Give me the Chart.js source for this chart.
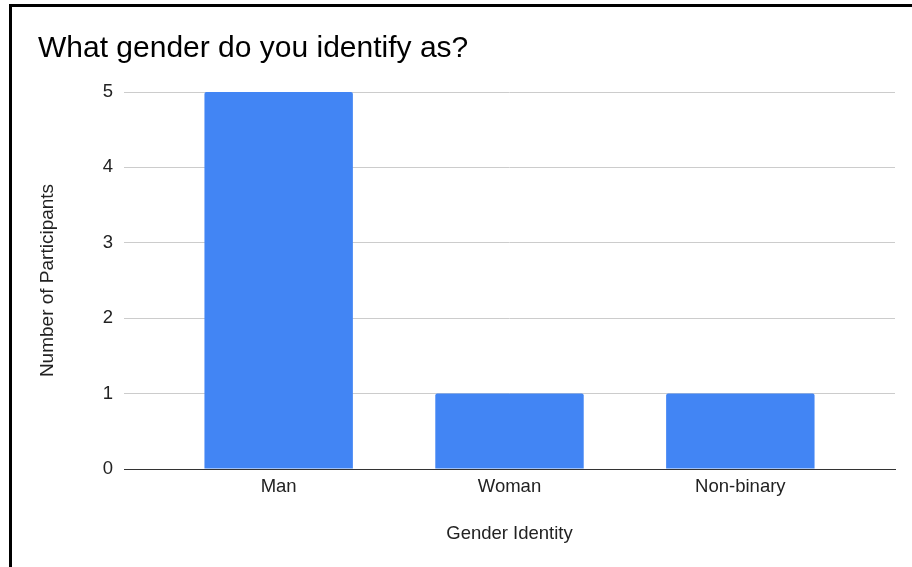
<!DOCTYPE html>
<html>
<head>
<meta charset="utf-8">
<script src="https://cdn.jsdelivr.net/npm/chart.js@4"></script>
<style>
  html, body { margin: 0; padding: 0; background: #fff; }
  .frame {
    position: absolute; left: 9px; top: 4px; width: 1000px; height: 700px;
    border-left: 3px solid #000; border-top: 3px solid #000;
  }
  .wrap { position: absolute; left: 0; top: 0; width: 912px; height: 567px; overflow: hidden; }
</style>
</head>
<body>
<div class="wrap">
  <div class="frame"></div>
  <div style="position:absolute;left:0;top:0;width:912px;height:567px;">
    <canvas id="myChart"></canvas>
  </div>
</div>
<script>
const genders = ["Man", "Woman", "Non-binary"];
const participants = [5, 1, 1];
const countTicks = [0, 1, 2, 3, 4, 5];

Chart.defaults.font.family = "'Liberation Sans', Arial, sans-serif";
Chart.defaults.color = "#222";

const ctx = document.getElementById('myChart').getContext('2d');

new Chart(ctx, {
  type: 'bar',
  data: {
    datasets: [{
      label: "Number of Participants",
      data: genders.map((g, i) => ({ x: i, y: participants[i] })),
      backgroundColor: '#4285F4',
      borderRadius: 2,
      categoryPercentage: 1,
      barPercentage: 0.643
    }]
  },
  options: {
    responsive: true,
    maintainAspectRatio: false,
    animation: false,
    layout: { padding: { left: 38, right: 17, top: 0, bottom: 22 } },
    plugins: {
      legend: { display: false },
      tooltip: { enabled: false },
      title: {
        display: true,
        text: "What gender do you identify as?",
        align: 'start',
        color: '#000',
        font: { size: 30, weight: 'normal' },
        padding: { top: 31, bottom: 25 }
      }
    },
    scales: {
      x: {
        type: 'linear',
        offset: false,
        min: -0.67,
        max: 2.67,
        afterBuildTicks: (scale) => { scale.ticks = genders.map((g, i) => ({ value: i })); },
        afterFit: (scale) => { scale.height = 76; },
        grid: { display: false, drawTicks: false },
        border: { display: true, color: '#333', width: 1 },
        ticks: {
          padding: 7,
          font: { size: 18.5 },
          callback: (v) => genders[v]
        },
        title: {
          display: true,
          text: "Gender Identity",
          font: { size: 18.5 },
          padding: { top: 0, bottom: 0 }
        }
      },
      y: {
        min: 0,
        max: 5,
        afterBuildTicks: (scale) => { scale.ticks = countTicks.map(v => ({ value: v })); },
        afterFit: (scale) => { scale.width = 86; },
        grid: {
          drawTicks: false,
          color: (c) => c.tick && c.tick.value === 0 ? '#333' : '#ccc'
        },
        border: { display: false },
        ticks: { padding: 11, font: { size: 18.5 } },
        title: {
          display: true,
          text: "Number of Participants",
          font: { size: 19 },
          padding: { top: -2, bottom: 0 }
        }
      }
    }
  }
});
</script>
</body>
</html>
